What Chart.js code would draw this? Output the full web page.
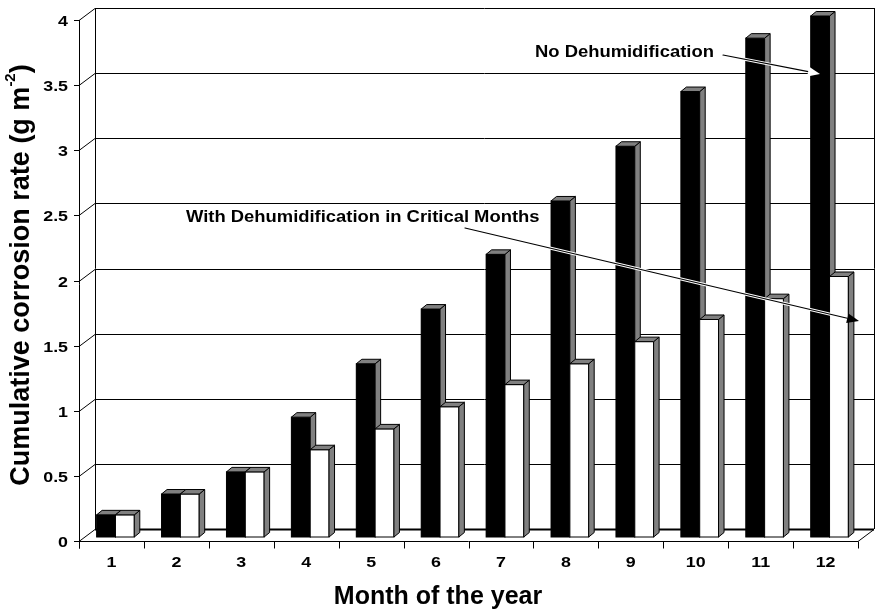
<!DOCTYPE html>
<html>
<head>
<meta charset="utf-8">
<script src="https://cdn.jsdelivr.net/npm/chart.js@4.4.1/dist/chart.umd.min.js"></script>
<style>
  html, body { margin: 0; padding: 0; background: #fff; }
  #wrap { width: 882px; height: 612px; }
</style>
</head>
<body>
<div id="wrap"><canvas id="chart"></canvas></div>
<script>
const months = ["1", "2", "3", "4", "5", "6", "7", "8", "9", "10", "11", "12"]
const noDehumid = [0.17, 0.33, 0.5, 0.92, 1.33, 1.75, 2.17, 2.58, 3.0, 3.42, 3.83, 4.0]
const withDehumid = [0.17, 0.33, 0.5, 0.67, 0.83, 1.0, 1.17, 1.33, 1.5, 1.67, 1.83, 2.0]
const yTicks = [0, 0.5, 1, 1.5, 2, 2.5, 3, 3.5, 4]

const FONT = "'Liberation Sans', Arial, sans-serif"
const WALL = { dx: 16, dy: -12 }   // front plane -> back wall
const SHIFT = { dx: 4, dy: -4 }    // front plane -> bar front
const BAR = { dx: 5.5, dy: -4.5 }  // bar depth

// text with a bit of horizontal stretch, like the original export
function text(ctx, s, x, y, align, sx) {
  ctx.save()
  ctx.translate(x, y)
  ctx.scale(sx, 1)
  ctx.textAlign = align
  ctx.fillText(s, 0, 0)
  ctx.restore()
}

function arrow(ctx, x1, y1, x2, y2, headFill) {
  const a = Math.atan2(y2 - y1, x2 - x1)
  const len = 12, half = 5
  const bx = x2 - len * Math.cos(a), by = y2 - len * Math.sin(a)
  ctx.lineCap = "round"
  ctx.strokeStyle = "#fff"
  ctx.lineWidth = 3
  ctx.beginPath(); ctx.moveTo(x1, y1); ctx.lineTo(bx, by); ctx.stroke()
  ctx.strokeStyle = "#000"
  ctx.lineWidth = 1.2
  ctx.beginPath(); ctx.moveTo(x1, y1); ctx.lineTo(bx, by); ctx.stroke()
  ctx.beginPath()
  ctx.moveTo(x2, y2)
  ctx.lineTo(bx + half * Math.sin(a), by - half * Math.cos(a))
  ctx.lineTo(bx - half * Math.sin(a), by + half * Math.cos(a))
  ctx.closePath()
  ctx.fillStyle = headFill
  ctx.fill()
}

// front, side and top of one bar, from the bar element Chart.js laid out
function box(ctx, bar, front) {
  const p = bar.getProps(["x", "y", "width", "base"], true)
  const l = p.x - p.width / 2, r = p.x + p.width / 2
  ctx.strokeStyle = "#000"
  ctx.lineWidth = 1
  ctx.fillStyle = front
  ctx.fillRect(l, p.y, r - l, p.base - p.y)
  ctx.strokeRect(l, p.y, r - l, p.base - p.y)
  ctx.fillStyle = "#808080"
  ctx.beginPath()
  ctx.moveTo(r, p.y)
  ctx.lineTo(r + BAR.dx, p.y + BAR.dy)
  ctx.lineTo(r + BAR.dx, p.base + BAR.dy)
  ctx.lineTo(r, p.base)
  ctx.closePath()
  ctx.fill(); ctx.stroke()
  ctx.beginPath()
  ctx.moveTo(l, p.y)
  ctx.lineTo(l + BAR.dx, p.y + BAR.dy)
  ctx.lineTo(r + BAR.dx, p.y + BAR.dy)
  ctx.lineTo(r, p.y)
  ctx.closePath()
  ctx.fill(); ctx.stroke()
}

const threeD = {
  id: "threeD",
  beforeDatasetsDraw(chart) {
    const { ctx, chartArea: a, scales: { y } } = chart
    ctx.save()
    ctx.strokeStyle = "#000"
    ctx.lineWidth = 1
    const top = y.getPixelForValue(4)
    const bottom = y.getPixelForValue(0)
    // back wall grid + diagonals
    yTicks.forEach(v => {
      const py = Math.round(y.getPixelForValue(v)) + 0.5
      ctx.beginPath()
      ctx.moveTo(a.left, py)
      ctx.lineTo(a.left + WALL.dx, py + WALL.dy)
      ctx.lineTo(a.right + WALL.dx, py + WALL.dy)
      ctx.stroke()
    })
    ctx.beginPath()
    ctx.moveTo(a.left + WALL.dx + 0.5, top + WALL.dy)
    ctx.lineTo(a.left + WALL.dx + 0.5, bottom + WALL.dy)
    ctx.moveTo(a.right + WALL.dx + 0.5, top + WALL.dy)
    ctx.lineTo(a.right + WALL.dx + 0.5, bottom + WALL.dy)
    ctx.moveTo(a.right, bottom + 0.5)
    ctx.lineTo(a.right + WALL.dx, bottom + WALL.dy + 0.5)
    ctx.stroke()
    ctx.lineWidth = 2
    ctx.beginPath()
    ctx.moveTo(a.left + WALL.dx, bottom + WALL.dy + 0.5)
    ctx.lineTo(a.right + WALL.dx, bottom + WALL.dy + 0.5)
    ctx.stroke()
    ctx.restore()
    ctx.save()
    ctx.translate(SHIFT.dx, SHIFT.dy)
  },
  afterDatasetsDraw(chart) {
    const { ctx, chartArea: a, scales: { x, y } } = chart
    // boxes drawn pair by pair so the white bar sits over the black one's side
    const black = chart.getDatasetMeta(0).data
    const white = chart.getDatasetMeta(1).data
    months.forEach((m, i) => {
      box(ctx, black[i], "#000")
      box(ctx, white[i], "#fff")
    })
    ctx.restore()
    ctx.save()
    ctx.strokeStyle = "#000"
    ctx.lineWidth = 1
    const bottom = Math.round(y.getPixelForValue(0)) + 0.5
    // front axes
    ctx.beginPath()
    ctx.moveTo(a.left + 0.5, y.getPixelForValue(4))
    ctx.lineTo(a.left + 0.5, bottom + 7)
    ctx.moveTo(a.left, bottom)
    ctx.lineTo(a.right, bottom)
    ctx.stroke()
    // y ticks + labels
    ctx.fillStyle = "#000"
    ctx.font = "bold 15.5px " + FONT
    ctx.textBaseline = "middle"
    yTicks.forEach(v => {
      const py = Math.round(y.getPixelForValue(v)) + 0.5
      ctx.beginPath(); ctx.moveTo(a.left - 5, py); ctx.lineTo(a.left, py); ctx.stroke()
      text(ctx, String(v), 68, py + 1, "right", 1.15)
    })
    // x ticks + labels
    const cw = (a.right - a.left) / months.length
    for (let i = 0; i <= months.length; i++) {
      const px = Math.round(a.left + i * cw) + 0.5
      ctx.beginPath(); ctx.moveTo(px, bottom); ctx.lineTo(px, bottom + 7); ctx.stroke()
    }
    months.forEach((m, i) => text(ctx, m, x.getPixelForValue(i), 563, "center", 1.15))
    // axis titles
    ctx.font = "bold 25px " + FONT
    text(ctx, "Month of the year", 438, 597, "center", 1)
    const main = "Cumulative corrosion rate (g m"
    const sup = "-2"
    ctx.font = "bold 27px " + FONT
    const wMain = ctx.measureText(main).width
    const wClose = ctx.measureText(")").width
    ctx.font = "bold 15px " + FONT
    const wSup = ctx.measureText(sup).width
    const total = wMain + wSup + wClose
    ctx.translate(22, 275)
    ctx.rotate(-Math.PI / 2)
    ctx.textAlign = "left"
    ctx.font = "bold 27px " + FONT
    ctx.fillText(main, -total / 2, 0)
    ctx.font = "bold 15px " + FONT
    ctx.fillText(sup, -total / 2 + wMain, -11)
    ctx.font = "bold 27px " + FONT
    ctx.fillText(")", -total / 2 + wMain + wSup, 0)
    ctx.restore()
    // annotations
    ctx.save()
    ctx.fillStyle = "#000"
    ctx.font = "bold 16px " + FONT
    ctx.textBaseline = "middle"
    text(ctx, "No Dehumidification", 535, 53, "left", 1.15)
    text(ctx, "With Dehumidification in Critical Months", 186, 218, "left", 1.15)
    arrow(ctx, 723, 55, 820, 74, "#fff")
    arrow(ctx, 465, 228, 859, 321, "#000")
    ctx.restore()
  }
}

new Chart(document.getElementById("chart"), {
  type: "bar",
  data: {
    labels: months,
    datasets: [
      {
        label: "No Dehumidification",
        data: noDehumid,
        backgroundColor: "#000",
        borderColor: "#000",
        borderWidth: 1,
        categoryPercentage: 0.58,
        barPercentage: 1.0
      },
      {
        label: "With Dehumidification in Critical Months",
        data: withDehumid,
        backgroundColor: "#fff",
        borderColor: "#000",
        borderWidth: 1,
        categoryPercentage: 0.58,
        barPercentage: 1.0
      }
    ]
  },
  options: {
    responsive: true,
    maintainAspectRatio: false,
    animation: false,
    layout: { padding: { left: 79, right: 24, top: 20, bottom: 71 } },
    scales: {
      x: { display: false },
      y: { display: false, min: 0, max: 4 }
    },
    plugins: {
      legend: { display: false },
      tooltip: { enabled: false }
    }
  },
  plugins: [threeD]
})
</script>
</body>
</html>
